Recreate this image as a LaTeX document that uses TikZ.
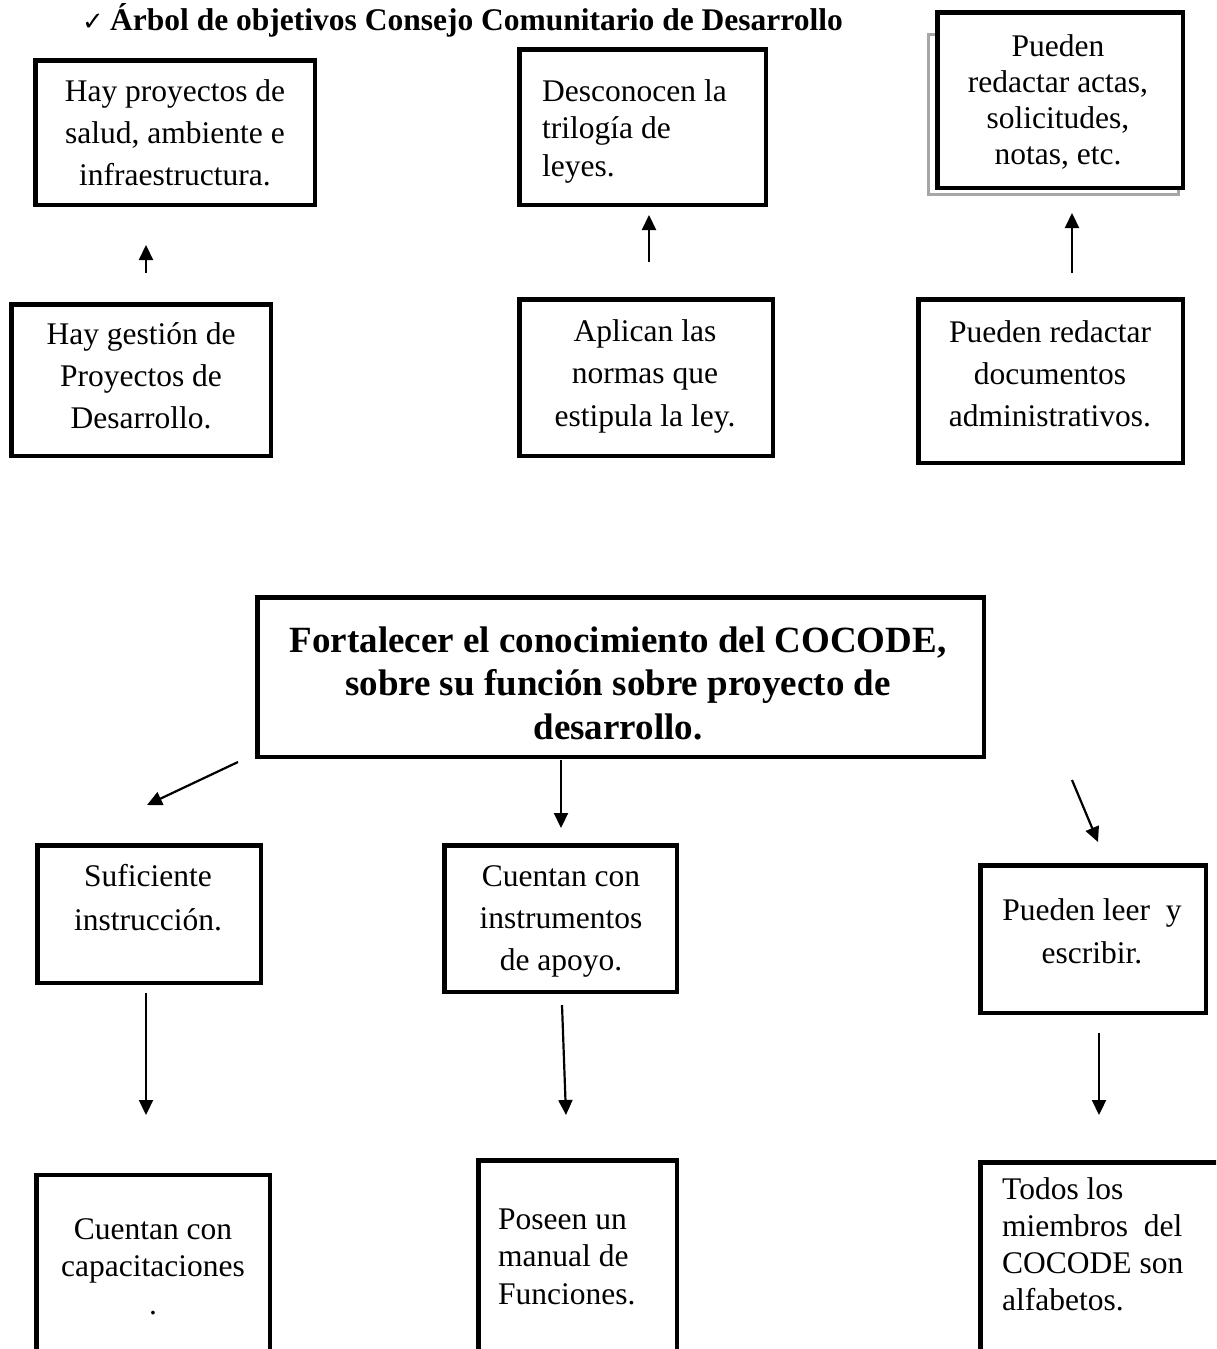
\documentclass[tikz,border=0pt]{standalone}
\usepackage{fontspec}
\setmainfont{Liberation Serif}
\newfontfamily\symfnt{DejaVu Sans}
\usetikzlibrary{arrows.meta}
\begin{document}
\begin{tikzpicture}[x=1pt,y=-1pt,
  box/.style={draw, line width=4.5pt, fill=white, inner sep=0pt, outer sep=0pt},
  shadowbox/.style={draw=gray!70, line width=3pt, inner sep=0pt, outer sep=0pt},
  txt/.style={inner sep=0pt, anchor=base, align=center, font=\fontsize{31.5}{42}\selectfont},
  ltxt/.style={inner sep=0pt, anchor=base west, align=left, font=\fontsize{31.5}{37.5}\selectfont},
  arr/.style={line width=2.2pt, -{Triangle[length=15pt,width=14pt]}}]
\useasboundingbox (0,0) rectangle (1216,1349);
\clip (0,0) rectangle (1216,1349);

% title
\node[inner sep=0pt, anchor=base east, font=\symfnt\fontsize{26}{28}\selectfont] (chk) at (104,30) {✓};
\node[inner sep=0pt, anchor=base west, font=\bfseries\fontsize{31.5}{36}\selectfont] (title) at (110,30) {Árbol de objetivos Consejo Comunitario de Desarrollo};

% top row
\node[box, minimum width=279.5pt, minimum height=144.5pt] (b1) at (175,132.5) {};
\node[txt] (t1) at (175,185) {Hay proyectos de\\salud, ambiente e\\infraestructura.};

\node[box, minimum width=246.5pt, minimum height=155.5pt] (b2) at (642.5,127) {};
\node[ltxt] (t2) at (542,176) {Desconocen la\\trilogía de\\leyes.};

\node[shadowbox, minimum width=250pt, minimum height=160pt] (b3s) at (1053.5,114.5) {};
\node[box, minimum width=245.5pt, minimum height=175.5pt] (b3) at (1060,100) {};
\node[txt, font=\fontsize{31.5}{36}\selectfont] (t3) at (1058,164) {Pueden\\redactar actas,\\solicitudes,\\notas, etc.};

% second row
\node[box, minimum width=259.5pt, minimum height=151.5pt] (b4) at (141,380) {};
\node[txt] (t4) at (141,428) {Hay gestión de\\Proyectos de\\Desarrollo.};

\node[box, minimum width=253.5pt, minimum height=156.5pt] (b5) at (646,377.5) {};
\node[txt, font=\fontsize{31.5}{42.5}\selectfont] (t5) at (645,426) {Aplican las\\normas que\\estipula la ley.};

\node[box, minimum width=264.5pt, minimum height=163.5pt] (b6) at (1050.5,381) {};
\node[txt] (t6) at (1050,426) {Pueden redactar\\documentos\\administrativos.};

% up arrows
\coordinate (a1s) at (146,273); \coordinate (a1e) at (146,245);
\coordinate (a2s) at (649,262); \coordinate (a2e) at (649,215);
\coordinate (a3s) at (1072,273); \coordinate (a3e) at (1072,213);
\draw[arr] (a1s) -- (a1e);
\draw[arr] (a2s) -- (a2e);
\draw[arr] (a3s) -- (a3e);

% main box
\node[box, minimum width=726.5pt, minimum height=159.5pt] (main) at (620.5,677) {};
\node[txt, font=\bfseries\fontsize{37}{43.5}\selectfont] (tm) at (618,739) {Fortalecer el conocimiento del COCODE,\\sobre su función sobre proyecto de\\desarrollo.};

% arrows from main
\coordinate (m1s) at (238,762); \coordinate (m1e) at (147,805);
\coordinate (m2s) at (561,760); \coordinate (m2e) at (561,828);
\coordinate (m3s) at (1072,780); \coordinate (m3e) at (1098,842);
\draw[arr] (m1s) -- (m1e);
\draw[arr] (m2s) -- (m2e);
\draw[arr] (m3s) -- (m3e);

% third row
\node[box, minimum width=223.5pt, minimum height=137.5pt] (b8) at (149,914) {};
\node[txt, font=\fontsize{31.5}{44}\selectfont] (t8) at (148,930) {Suficiente\\instrucción.};

\node[box, minimum width=232.5pt, minimum height=146.5pt] (b9) at (560.5,918.5) {};
\node[txt] (t9) at (561,970) {Cuentan con\\instrumentos\\de apoyo.};

\node[box, minimum width=225.5pt, minimum height=147.5pt] (b10) at (1093,939) {};
\node[txt, font=\fontsize{31.5}{43}\selectfont] (t10) at (1092,963) {Pueden leer\ \ y\\escribir.};

% down arrows
\coordinate (d1s) at (146,993); \coordinate (d1e) at (146,1115);
\coordinate (d2s) at (562,1005); \coordinate (d2e) at (566,1115);
\coordinate (d3s) at (1099,1033); \coordinate (d3e) at (1099,1115);
\draw[arr] (d1s) -- (d1e);
\draw[arr] (d2s) -- (d2e);
\draw[arr] (d3s) -- (d3e);

% bottom row (cut off by page edge)
\node[box, minimum width=233.5pt, minimum height=243.5pt] (b11) at (153,1296.5) {};
\node[txt, font=\fontsize{31.5}{37.5}\selectfont] (t11) at (153,1314) {Cuentan con\\capacitaciones\\.};

\node[box, minimum width=198.5pt, minimum height=257.5pt] (b12) at (577.5,1289) {};
\node[ltxt] (t12) at (498,1304) {Poseen un\\manual de\\Funciones.};

\node[box, minimum width=277.5pt, minimum height=255.5pt] (b13) at (1119,1290) {};
\node[ltxt, font=\fontsize{31.5}{37}\selectfont] (t13) at (1002,1310) {Todos los\\miembros\ \ del\\COCODE son\\alfabetos.};
\end{tikzpicture}
\end{document}
